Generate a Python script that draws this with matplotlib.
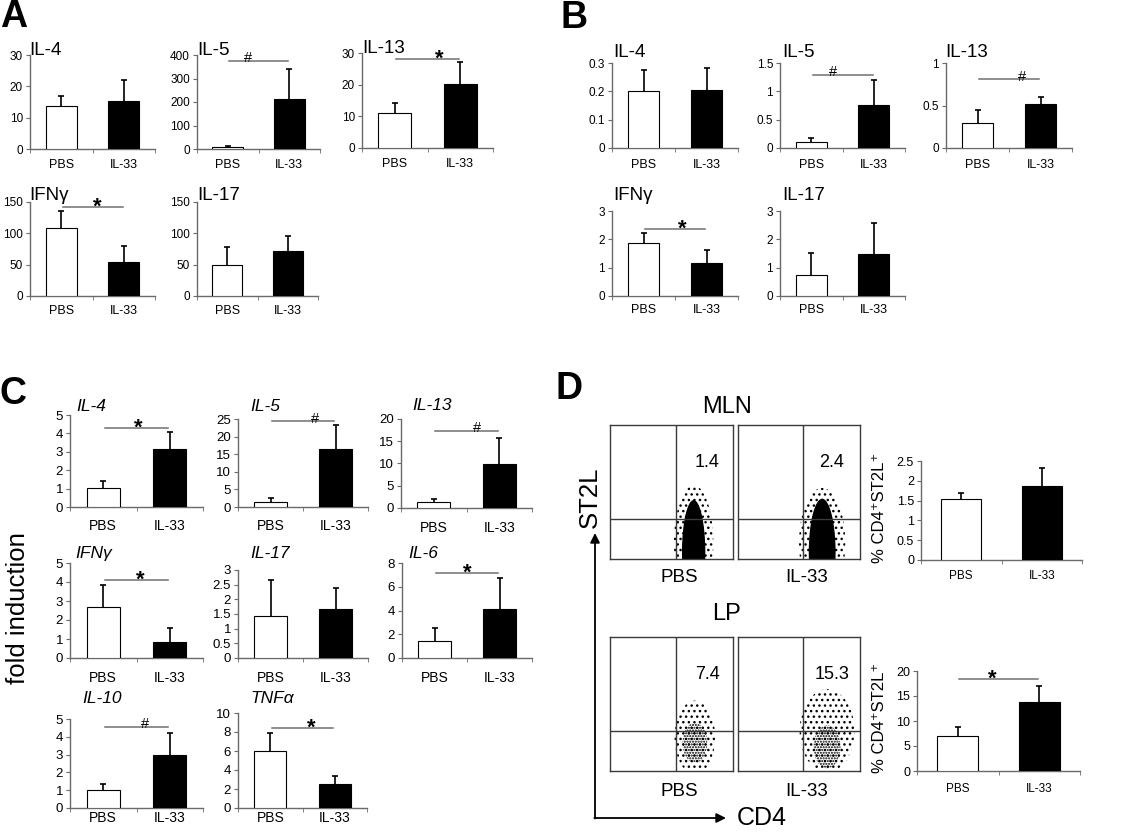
import numpy as np
import matplotlib.pyplot as plt
from matplotlib.patches import Ellipse
from matplotlib.ticker import FuncFormatter

plt.rcParams['font.family'] = ['Liberation Sans', 'DejaVu Sans']
plt.rcParams['hatch.linewidth'] = 1.0

W, H = 1123, 833
groups = ['PBS', 'IL-33']

# A: cytokine protein
a_names = ['IL-4', 'IL-5', 'IL-13', 'IFNγ', 'IL-17']
a_pbs = [13.8, 8, 11, 108, 50]
a_pbs_err = [3.0, 4, 3.3, 28, 28]
a_il33 = [15.2, 212, 20.2, 55, 72]
a_il33_err = [6.8, 128, 7.0, 25, 24]
a_sig = ['', '#', '*', '*', '']

# B
b_names = ['IL-4', 'IL-5', 'IL-13', 'IFNγ', 'IL-17']
b_pbs = [0.2, 0.1, 0.29, 1.87, 0.75]
b_pbs_err = [0.077, 0.07, 0.16, 0.36, 0.77]
b_il33 = [0.205, 0.76, 0.52, 1.18, 1.5]
b_il33_err = [0.076, 0.44, 0.08, 0.44, 1.07]
b_sig = ['', '#', '#', '*', '']

# C: fold induction
c_names = ['IL-4', 'IL-5', 'IL-13', 'IFNγ', 'IL-17', 'IL-6', 'IL-10', 'TNFα']
c_pbs = [1.02, 1.3, 1.3, 2.7, 1.42, 1.45, 1.02, 6.0]
c_pbs_err = [0.38, 1.2, 0.7, 1.15, 1.23, 1.05, 0.31, 1.85]
c_il33 = [3.15, 16.6, 9.8, 0.85, 1.67, 4.15, 2.95, 2.5]
c_il33_err = [0.9, 6.7, 5.9, 0.75, 0.7, 2.55, 1.27, 0.92]
c_sig = ['*', '#', '#', '*', '', '*', '#', '*']

# D: CD4+ST2L+ cells
d_sites = ['MLN', 'LP']
d_gate_pbs = ['1.4', '7.4']
d_gate_il33 = ['2.4', '15.3']
d_pbs = [1.53, 7.1]
d_pbs_err = [0.15, 1.7]
d_il33 = [1.88, 13.8]
d_il33_err = [0.44, 3.3]
d_sig = ['', '*']

# flow cytometry clouds: (centre x, centre y, width, height, kind), axes units 0..1
d_clouds = [
    [(0.68, 0.12, 0.32, 0.86, 'halo'), (0.68, 0.05, 0.19, 0.78, 'core')],
    [(0.69, 0.12, 0.38, 0.82, 'halo'), (0.69, 0.05, 0.22, 0.80, 'core')],
    [(0.69, 0.25, 0.33, 0.55, 'halo'), (0.69, 0.21, 0.20, 0.30, 'dense')],
    [(0.73, 0.30, 0.45, 0.62, 'halo'), (0.73, 0.18, 0.22, 0.32, 'dense')],
]

axis_color = '#6a6a6a'
fig = plt.figure(figsize=(W / 100, H / 100), dpi=100)
ov = fig.add_axes([0, 0, 1, 1], zorder=10)
ov.set_xlim(0, W)
ov.set_ylim(H, 0)
ov.axis('off')


def px_rect(l, t, r, b):
    return [l / W, 1 - b / H, (r - l) / W, (b - t) / H]


def bar_chart(rect, vals, errs, ymax, ystep, tick_size, lab_size, lab_pad,
              sig='', sig_y=None, sig_x=0.5):
    ax = fig.add_axes(px_rect(*rect))
    x = np.arange(len(groups))
    tops = np.array(vals) + np.array(errs)
    # upper-only error bars with a small cap
    ax.vlines(x, vals, tops, color='black', lw=1.2, zorder=2)
    ax.plot(x, tops, ls='none', marker='_', ms=5, mew=1.2, color='black', zorder=2)
    ax.bar(x, vals, width=0.5, color=['white', 'black'], edgecolor='black',
           linewidth=0.8, zorder=3)
    ax.set_xlim(-0.5, 1.5)
    ax.set_ylim(0, ymax)
    ax.set_yticks(np.arange(0, ymax + ystep / 2, ystep))
    ax.yaxis.set_major_formatter(FuncFormatter(lambda v, p: f'{v:g}'))
    ax.set_xticks(x, groups)
    ax.set_xticks([-0.5, 0.5, 1.5], minor=True)
    ax.tick_params(axis='x', which='major', length=0, pad=lab_pad, labelsize=lab_size)
    ax.tick_params(axis='x', which='minor', length=3, direction='out', color=axis_color)
    ax.tick_params(axis='y', length=3, direction='out', color=axis_color,
                   labelsize=tick_size, pad=2)
    for s in ['top', 'right']:
        ax.spines[s].set_visible(False)
    for s in ['left', 'bottom']:
        ax.spines[s].set_color(axis_color)
        ax.spines[s].set_linewidth(1.0)
    ax.patch.set_visible(False)
    if sig:
        ax.plot([0.02, 0.98], [sig_y, sig_y], color='#707070', lw=1.1, clip_on=False)
        if sig == '*':
            ax.annotate('*', xy=(sig_x, sig_y), xytext=(0, -4), textcoords='offset points',
                        ha='center', va='baseline', fontsize=16, fontweight='bold')
        else:
            ax.annotate('#', xy=(sig_x, sig_y), xytext=(0, -1), textcoords='offset points',
                        ha='center', va='baseline', fontsize=10.5)
    return ax


# ---- panel A ----
a_layout = [
    dict(rect=(30, 55, 155, 149), ymax=30, step=10, title=(29, 55), pad=7.5),
    dict(rect=(197, 55, 320, 149), ymax=400, step=100, title=(197, 55), pad=7.5, sy=374, sx=0.33),
    dict(rect=(362, 53, 493, 148), ymax=30, step=10, title=(362, 53), pad=7.5, sy=28.1, sx=0.68),
    dict(rect=(30, 202, 155, 296), ymax=150, step=50, title=(29, 200), pad=6.5, sy=142, sx=0.57),
    dict(rect=(197, 202, 318, 296), ymax=150, step=50, title=(197, 200), pad=6.5),
]
for i, lay in enumerate(a_layout):
    bar_chart(lay['rect'], [a_pbs[i], a_il33[i]], [a_pbs_err[i], a_il33_err[i]],
              lay['ymax'], lay['step'], 8.5, 9, lay['pad'], a_sig[i], lay.get('sy'), lay.get('sx', 0.5))
    ov.text(*lay['title'], a_names[i], ha='left', va='baseline', fontsize=13.5)

# ---- panel B ----
b_layout = [
    dict(rect=(612, 63, 738, 148), ymax=0.3, step=0.1, title=(613, 57), pad=8),
    dict(rect=(780, 63, 905, 148), ymax=1.5, step=0.5, title=(782, 57), pad=8, sy=1.29, sx=0.35),
    dict(rect=(946, 63, 1072, 148), ymax=1, step=0.5, title=(945, 57), pad=8, sy=0.81, sx=0.71),
    dict(rect=(612, 211, 738, 296), ymax=3, step=1, title=(613, 200), pad=6, sy=2.36, sx=0.61),
    dict(rect=(780, 211, 905, 296), ymax=3, step=1, title=(782, 200), pad=6),
]
for i, lay in enumerate(b_layout):
    bar_chart(lay['rect'], [b_pbs[i], b_il33[i]], [b_pbs_err[i], b_il33_err[i]],
              lay['ymax'], lay['step'], 8.5, 9, lay['pad'], b_sig[i], lay.get('sy'), lay.get('sx', 0.5))
    ov.text(*lay['title'], b_names[i], ha='left', va='baseline', fontsize=13.5)

# ---- panel C ----
c_layout = [
    dict(rect=(70, 415, 203, 507), ymax=5, step=1, title=(76, 411), pad=9, sy=4.29, sx=0.52),
    dict(rect=(238, 419, 368, 507), ymax=25, step=5, title=(250, 411), pad=9, sy=24.4, sx=0.68),
    dict(rect=(401, 419, 532, 508), ymax=20, step=5, title=(412, 410), pad=9, sy=17.3, sx=0.66),
    dict(rect=(70, 563, 203, 658), ymax=5, step=1, title=(75, 558), pad=9, sy=4.1, sx=0.55),
    dict(rect=(238, 570, 368, 658), ymax=3, step=0.5, title=(250, 558), pad=9),
    dict(rect=(402, 563, 532, 658), ymax=8, step=2, title=(408, 558), pad=9, sy=7.16, sx=0.5),
    dict(rect=(70, 719, 203, 808), ymax=5, step=1, title=(82, 703), pad=2.5, sy=4.55, sx=0.63),
    dict(rect=(238, 713, 367, 808), ymax=10, step=2, title=(250, 703), pad=2.5, sy=8.4, sx=0.64),
]
for i, lay in enumerate(c_layout):
    bar_chart(lay['rect'], [c_pbs[i], c_il33[i]], [c_pbs_err[i], c_il33_err[i]],
              lay['ymax'], lay['step'], 9.5, 10, lay['pad'], c_sig[i], lay.get('sy'), lay.get('sx', 0.5))
    ov.text(*lay['title'], c_names[i], ha='left', va='baseline', fontsize=12.5, style='italic')
ov.text(18, 608, 'fold induction', rotation=90, ha='center', va='center', fontsize=18.5)

# ---- panel D ----
d_layout = [
    dict(rect=(921, 461, 1082, 560), ymax=2.5, step=0.5, pad=7.5, ylab=(880, 508),
         boxes=[(610, 425, 733, 559), (738, 425, 860, 559)], site=(727, 407), labels_y=578),
    dict(rect=(917, 671, 1080, 771), ymax=20, step=5, pad=9, sy=18.4, sx=0.43, ylab=(880, 718),
         boxes=[(610, 637, 733, 771), (738, 637, 860, 771)], site=(727, 614), labels_y=792),
]
for i, lay in enumerate(d_layout):
    bar_chart(lay['rect'], [d_pbs[i], d_il33[i]], [d_pbs_err[i], d_il33_err[i]],
              lay['ymax'], lay['step'], 9, 8.5, lay['pad'], d_sig[i], lay.get('sy'), lay.get('sx', 0.5))
    ov.text(*lay['ylab'], '% CD4⁺ST2L⁺', rotation=90, ha='center', va='center', fontsize=12)
    ov.text(*lay['site'], d_sites[i], ha='center', va='center', fontsize=17)
    gate_vals = [d_gate_pbs[i], d_gate_il33[i]]
    for j, box in enumerate(lay['boxes']):
        dax = fig.add_axes(px_rect(*box))
        dax.set_xlim(0, 1)
        dax.set_ylim(0, 1)
        dax.set_xticks([])
        dax.set_yticks([])
        for s in dax.spines.values():
            s.set_color('#3a3a3a')
            s.set_linewidth(1)
        for cx, cy, w, h, kind in d_clouds[2 * i + j]:
            if kind == 'core':
                e = Ellipse((cx, cy), w, h, facecolor='black', edgecolor='none')
            elif kind == 'dense':
                e = Ellipse((cx, cy), w, h, facecolor='none', edgecolor='black',
                            hatch='......', linewidth=0)
            else:
                e = Ellipse((cx, cy), w, h, facecolor='none', edgecolor='black',
                            hatch='...', linewidth=0)
            dax.add_patch(e)
        gx = 0.537 if j == 0 else 0.533
        dax.axvline(gx, color='#3a3a3a', lw=1)
        dax.axhline(0.30, color='#3a3a3a', lw=1)
        dax.text(0.79 if j == 0 else 0.77, 0.72, gate_vals[j], ha='center', va='center', fontsize=13)
        ov.text((box[0] + box[2]) / 2 + 8, lay['labels_y'], groups[j], ha='center', va='center',
                fontsize=13.5)

ov.text(590, 497, 'ST2L', rotation=90, ha='center', va='center', fontsize=18.5)
ov.text(737, 818, 'CD4', ha='left', va='center', fontsize=18)
ov.annotate('', xy=(595, 533), xytext=(595, 818.5),
            arrowprops=dict(arrowstyle='-|>', color='black', lw=1.3, mutation_scale=14,
                            shrinkA=0, shrinkB=0))
ov.annotate('', xy=(726, 818), xytext=(594.4, 818),
            arrowprops=dict(arrowstyle='-|>', color='black', lw=1.3, mutation_scale=14,
                            shrinkA=0, shrinkB=0))

# panel letters
for letter, (lx, ly) in zip('ABCD', [(14, 17), (574, 18), (13, 394), (569, 389)]):
    ov.text(lx, ly, letter, ha='center', va='center', fontsize=27, fontweight='bold')

fig.savefig('out.png', dpi=100)
